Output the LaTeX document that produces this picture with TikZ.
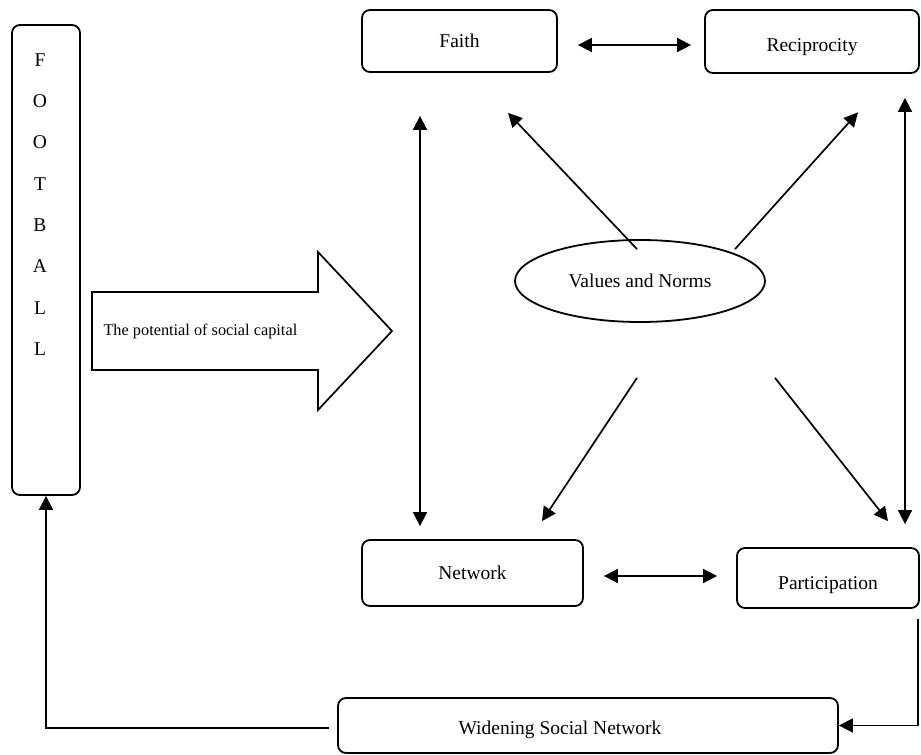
\documentclass[tikz,border=0pt]{standalone}
\usepackage{fontspec}
\setmainfont{Liberation Serif}
\usetikzlibrary{arrows.meta,shapes.geometric,calc}
\begin{document}
\begin{tikzpicture}[x=1pt,y=-1pt,
  box/.style={draw,line width=1.8pt,rounded corners=8pt,inner sep=0pt},
  lbl/.style={font=\fontsize{19.5}{23}\selectfont},
  small/.style={font=\fontsize{16.3}{19}\selectfont},
  con/.style={line width=1.7pt},
  tip/.style={con,-{Triangle[length=14pt,width=14pt]}},
  dtip/.style={con,{Triangle[length=14pt,width=14pt]}-{Triangle[length=14pt,width=14pt]}}
]
\useasboundingbox (0,0) rectangle (921,755);
% boxes
\node[box,minimum width=68pt,minimum height=470pt] (football) at (46,260) {};
\foreach \ch [count=\i] in {F,O,O,T,B,A,L,L}
  \node[lbl] (fb\i) at (40,{60+41.3*(\i-1)}) {\ch};
\node[box,lbl,minimum width=195pt,minimum height=62pt] (faith) at (459.5,41) {Faith};
\node[box,lbl,minimum width=214pt,minimum height=63pt,text height=25pt,text depth=4.2pt] (recip) at (812,41.5) {Reciprocity};
\node[box,lbl,minimum width=221pt,minimum height=66pt,text height=18pt,text depth=4.2pt] (network) at (472.5,573) {Network};
\node[box,lbl,minimum width=182pt,minimum height=60pt,text height=27.5pt,text depth=4.2pt] (partic) at (828,578) {Participation};
\node[box,minimum width=500pt,minimum height=55pt] (widen) at (588,725.5) {};
\node[lbl] (widentext) at (560,730) {Widening Social Network};
\node[draw,ellipse,line width=1.8pt,lbl,minimum width=250pt,minimum height=82pt,inner sep=0pt] (values) at (640,281) {Values and Norms};
% big arrow
\draw[line width=1.7pt,line join=miter] (92,292) -- (318,292) -- (318,252) -- (392,331) -- (318,410) -- (318,370) -- (92,370) -- cycle;
\node[small,anchor=west] (potential) at (100,331) {The potential of social capital};
% connectors
\draw[dtip] ($(faith.east)+(20,4)$) -- ($(recip.west)+(-13,3.5)$);
\draw[dtip] ($(network.east)+(20,3)$) -- ($(partic.west)+(-19,-2)$);
\draw[dtip] ($(faith.south)+(-39.5,43)$) -- ($(network.north)+(-52.5,-13)$);
\draw[dtip] ($(recip.south)+(93,24)$) -- ($(partic.north)+(77,-23)$);
\draw[tip] ($(values.north)+(-3,10)$) -- ($(faith.south)+(48.5,40)$);
\draw[tip] ($(values.north)+(95,10)$) -- ($(recip.south)+(46,38.5)$);
\draw[tip] ($(values.south)+(-3,55)$) -- ($(network.north)+(69.5,-18)$);
\draw[tip] ($(values.south)+(135,55)$) -- ($(partic.north)+(60,-26)$);
\draw[tip] ($(partic.south east)+(-2,10)$) |- (widen.east);
\draw[tip] ($(widen.west)+(-8,2.5)$) -| (football.south);
\end{tikzpicture}
\end{document}
